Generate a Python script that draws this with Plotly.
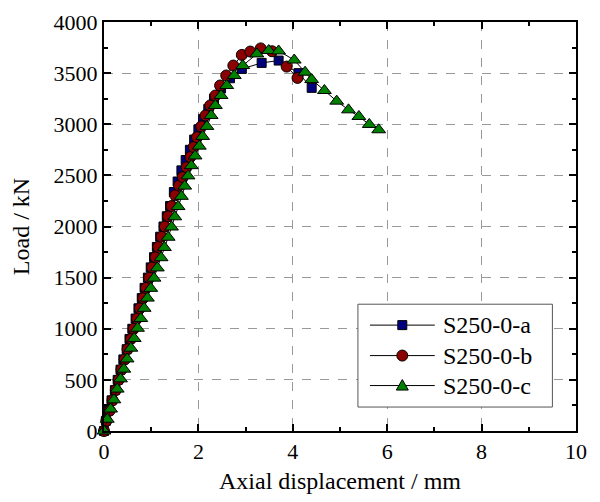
import plotly.graph_objects as go

# S250-0-a (squares)
a_x = [0, 0.04, 0.10, 0.16, 0.23, 0.29, 0.35, 0.41, 0.48, 0.54, 0.60, 0.67, 0.73, 0.80, 0.86, 0.93,
       0.99, 1.06, 1.12, 1.19, 1.26, 1.33, 1.40, 1.48, 1.56, 1.64, 1.73, 1.82, 1.91, 2.00, 2.10,
       2.21, 2.33, 2.48, 2.67, 2.92, 3.34, 3.70, 4.12, 4.40]
a_y = [0, 100, 200, 300, 400, 500, 600, 700, 800, 900, 1000, 1100, 1200, 1300, 1400, 1500,
       1600, 1700, 1800, 1900, 2000, 2100, 2200, 2337, 2440, 2549, 2650, 2750, 2850, 2950, 3050,
       3150, 3250, 3350, 3450, 3541, 3600, 3623, 3500, 3356]

# S250-0-b (circles)
b_x = [0, 0.05, 0.12, 0.18, 0.25, 0.31, 0.37, 0.44, 0.50, 0.57, 0.63, 0.70, 0.76, 0.83, 0.89,
       0.96, 1.02, 1.09, 1.15, 1.22, 1.29, 1.36, 1.43, 1.51, 1.59, 1.67, 1.75, 1.83, 1.90, 1.97,
       2.06, 2.15, 2.25, 2.36, 2.46, 2.59, 2.74, 2.92, 3.10, 3.32, 3.56, 3.87, 4.10]
b_y = [0, 100, 200, 300, 400, 500, 600, 700, 800, 900, 1000, 1100, 1200, 1300, 1400,
       1500, 1600, 1700, 1800, 1900, 2000, 2100, 2200, 2305, 2400, 2484, 2580, 2680, 2777, 2874,
       2979, 3086, 3184, 3281, 3379, 3477, 3574, 3678, 3711, 3742, 3714, 3564, 3453]

# S250-0-c (triangles)
c_x = [0, 0.07, 0.14, 0.21, 0.28, 0.35, 0.42, 0.49, 0.57, 0.64, 0.71, 0.78, 0.85, 0.92, 0.99,
       1.06, 1.13, 1.21, 1.28, 1.36, 1.43, 1.50, 1.57, 1.64, 1.71, 1.78, 1.85, 1.93, 2.02, 2.09,
       2.18, 2.27, 2.36, 2.48, 2.60, 2.76, 2.94, 3.24, 3.49, 3.70, 4.03, 4.26, 4.40, 4.67, 4.93,
       5.18, 5.40, 5.62, 5.82]
c_y = [0, 115, 215, 305, 410, 510, 605, 705, 810, 905, 1005, 1100, 1200, 1300, 1395,
       1495, 1595, 1695, 1795, 1895, 1995, 2095, 2195, 2295, 2395, 2495, 2595, 2690, 2786, 2881,
       2979, 3086, 3184, 3281, 3379, 3477, 3574, 3688, 3721, 3717, 3628, 3509, 3437, 3330, 3226,
       3141, 3076, 2998, 2946]

names = ["S250-0-a", "S250-0-b", "S250-0-c"]
colors = ["#00007F", "#8B0000", "#008000"]
FONT = "Liberation Serif, Times New Roman, serif"

fig = go.Figure()
series = [
    (a_x, a_y, names[0], "square", colors[0], 9),
    (b_x, b_y, names[1], "circle", colors[1], 11),
    (c_x, c_y, names[2], "triangle-up", colors[2], 12),
]
for xs, ys, nm, sym, col, sz in series:
    fig.add_trace(go.Scatter(
        x=xs, y=ys, name=nm, mode="lines+markers",
        line=dict(color="black", width=1),
        marker=dict(symbol=sym, size=sz, color=col, line=dict(color="black", width=1)),
        cliponaxis=False, showlegend=False,
    ))

axis_common = dict(
    showline=True, linecolor="black", linewidth=2, mirror="ticks",
    ticks="inside", ticklen=7, tickwidth=2, tickcolor="black",
    showgrid=True, gridcolor="#999999", griddash="dash", gridwidth=1,
    zeroline=False, automargin=False,
    tickfont=dict(family=FONT, size=22, color="black"),
    title_font=dict(family=FONT, size=24, color="black"),
)

fig.update_xaxes(range=[0, 10], dtick=2, tick0=0,
                 minor=dict(dtick=1, ticks="inside", ticklen=4, tickcolor="black", showgrid=False),
                 title_text="Axial displacement / mm", title_standoff=9, **axis_common)
fig.update_yaxes(range=[0, 4000], dtick=500, tick0=0,
                 minor=dict(dtick=250, ticks="inside", ticklen=4, tickcolor="black", showgrid=False),
                 title_text="Load / kN", title_standoff=20, **axis_common)

# ---- hand-built legend (box, sample lines, symbols, text) ----
box = dict(x0=0.538, x1=0.950, y0=0.0586, y1=0.310)
row_y = [0.2589, 0.1844, 0.1111]
line_x0, line_x1, mark_x, text_x = 0.5634, 0.7008, 0.632, 0.7135

shapes = [dict(type="rect", xref="paper", yref="paper", **box,
               line=dict(color="#555555", width=1), fillcolor="white", layer="above")]
annotations = []
half = [4.5, 5.5, 6]
for i, (nm, col) in enumerate(zip(names, colors)):
    y = row_y[i]
    shapes.append(dict(type="line", xref="paper", yref="paper", x0=line_x0, x1=line_x1,
                       y0=y, y1=y, line=dict(color="black", width=1), layer="above"))
    common = dict(xref="paper", yref="paper", xsizemode="pixel", ysizemode="pixel",
                  xanchor=mark_x, yanchor=y, fillcolor=col,
                  line=dict(color="black", width=1), layer="above")
    h = half[i]
    if i == 0:
        shapes.append(dict(type="rect", x0=-h, x1=h, y0=-h, y1=h, **common))
    elif i == 1:
        shapes.append(dict(type="circle", x0=-h, x1=h, y0=-h, y1=h, **common))
    else:
        shapes.append(dict(type="path", path=f"M {-h} {-h*0.75} L {h} {-h*0.75} L 0 {h} Z", **common))
    annotations.append(dict(xref="paper", yref="paper", x=text_x, y=y, text=nm,
                            showarrow=False, xanchor="left", yanchor="middle",
                            font=dict(family=FONT, size=24, color="black")))

fig.update_layout(
    width=592, height=494,
    margin=dict(l=96, r=23.5, t=13.5, b=71),
    plot_bgcolor="white", paper_bgcolor="white",
    font=dict(family=FONT, size=22, color="black"),
    shapes=shapes, annotations=annotations,
    showlegend=False,
)

fig.write_html("out.html")
